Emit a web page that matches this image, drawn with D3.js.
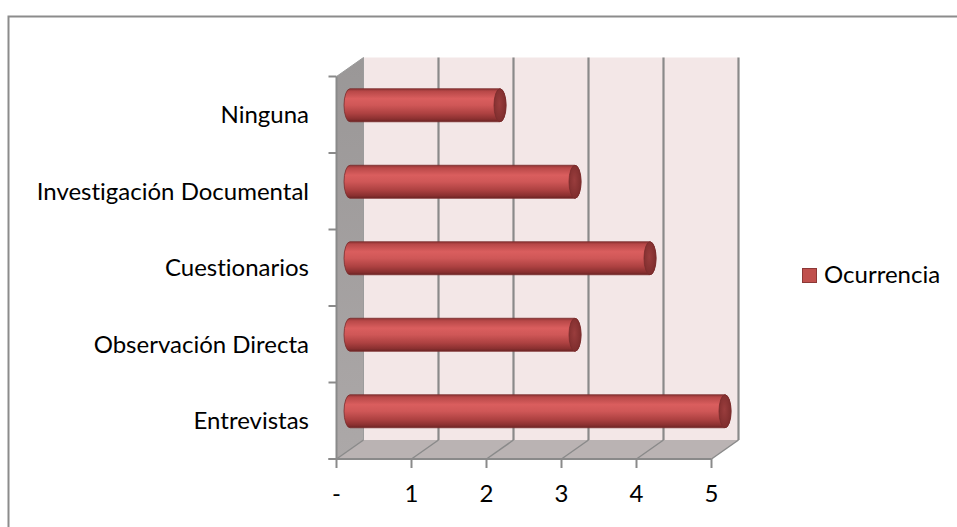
<!DOCTYPE html>
<html>
<head>
<meta charset="utf-8">
<script src="https://cdn.jsdelivr.net/npm/d3@7"></script>
<style>
  html, body { margin: 0; padding: 0; background: #ffffff; }
  svg { display: block; }
  text { font-family: Lato, "Open Sans", sans-serif; fill: #000; font-variant-ligatures: none; }
</style>
</head>
<body>
<svg id="chart" width="957" height="527"></svg>
<script>
// Categories from top to bottom, with their counts
const categories = ["Ninguna", "Investigación Documental", "Cuestionarios", "Observación Directa", "Entrevistas"];
const values = [2, 3, 4, 3, 5];
const tickValues = [0, 1, 2, 3, 4, 5];
const tickLabels = ["-", "1", "2", "3", "4", "5"];
const seriesName = "Ocurrencia";

const svg = d3.select("#chart");
const fontSize = 24;

// Frame around the chart area
svg.append("rect")
  .attr("x", 8.5).attr("y", 16.5)
  .attr("width", 1000).attr("height", 600)
  .attr("fill", "#fff")
  .attr("stroke", "#8c8c8c").attr("stroke-width", 2);

// Front plane scales; the 3D box recedes by (dx, dy)
const x = d3.scaleLinear().domain([0, 5]).range([336.5, 711.5]);
const y = d3.scaleBand().domain(categories).range([76.5, 459]).padding(0);
const dx = 27, dy = -19;
const x0 = x(0), x5 = x(5), yTop = y.range()[0], yBot = y.range()[1];

const defs = svg.append("defs");
const grad = defs.append("linearGradient").attr("id", "cyl")
  .attr("x1", 0).attr("y1", 0).attr("x2", 0).attr("y2", 1);
[[0, "#8e3434"], [0.08, "#b84848"], [0.3, "#da5e5e"], [0.5, "#cf5757"],
 [0.75, "#ad4141"], [0.92, "#8a3030"], [1, "#6a2424"]]
  .forEach(([o, c]) => grad.append("stop").attr("offset", o).attr("stop-color", c));
const capGrad = defs.append("radialGradient").attr("id", "cap")
  .attr("cx", 0.45).attr("cy", 0.45).attr("r", 0.6);
[[0, "#9a3d3d"], [1, "#7c2c2c"]]
  .forEach(([o, c]) => capGrad.append("stop").attr("offset", o).attr("stop-color", c));
const wallGrad = defs.append("linearGradient").attr("id", "wall")
  .attr("x1", 0).attr("y1", 0).attr("x2", 0).attr("y2", 1);
[[0, "#9a9797"], [1, "#aca8a8"]]
  .forEach(([o, c]) => wallGrad.append("stop").attr("offset", o).attr("stop-color", c));

const box = svg.append("g");

// Back wall
box.append("rect")
  .attr("x", x0 + dx).attr("y", yTop + dy)
  .attr("width", x5 - x0).attr("height", yBot - yTop)
  .attr("fill", "#f3e7e7");

// Left side wall
box.append("path")
  .attr("d", `M${x0},${yTop} L${x0 + dx},${yTop + dy} L${x0 + dx},${yBot + dy} L${x0},${yBot} Z`)
  .attr("fill", "url(#wall)");

// Floor
box.append("path")
  .attr("d", `M${x0},${yBot} L${x5},${yBot} L${x5 + dx},${yBot + dy} L${x0 + dx},${yBot + dy} Z`)
  .attr("fill", "#bab3b3");

// Gridlines on back wall and floor
const gridColor = "#8a8a8a";
box.selectAll(".vgrid").data(tickValues.slice(1)).join("line")
  .attr("class", "vgrid")
  .attr("x1", d => x(d) + dx).attr("x2", d => x(d) + dx)
  .attr("y1", yTop + dy).attr("y2", yBot + dy)
  .attr("stroke", gridColor).attr("stroke-width", 2.2);
box.selectAll(".fgrid").data(tickValues).join("line")
  .attr("class", "fgrid")
  .attr("x1", d => x(d)).attr("y1", yBot)
  .attr("x2", d => x(d) + dx).attr("y2", yBot + dy)
  .attr("stroke", gridColor).attr("stroke-width", 1.5);
// Box outlines
box.append("line")
  .attr("x1", x0).attr("y1", yTop).attr("x2", x0).attr("y2", yBot)
  .attr("stroke", "#8a8a8a").attr("stroke-width", 2);
box.append("line")
  .attr("x1", x0).attr("y1", yTop).attr("x2", x0 + dx).attr("y2", yTop + dy)
  .attr("stroke", "#9a9a9a").attr("stroke-width", 1);
box.append("line")
  .attr("x1", x0 - 8).attr("y1", yBot).attr("x2", x5).attr("y2", yBot)
  .attr("stroke", "#8a8a8a").attr("stroke-width", 2);
box.append("line")
  .attr("x1", x0 + dx).attr("y1", yTop + dy).attr("x2", x0 + dx).attr("y2", yBot + dy)
  .attr("stroke", "#9c9c9c").attr("stroke-width", 1);

// Category ticks on the front edge of the side wall
const yTicks = categories.map(c => y(c)).concat([yBot]);
box.selectAll(".ytick").data(yTicks).join("line")
  .attr("x1", x0 - 8).attr("x2", x0).attr("y1", d => d).attr("y2", d => d)
  .attr("stroke", "#8a8a8a").attr("stroke-width", 2);
// Value ticks below the floor
box.selectAll(".xtick").data(tickValues).join("line")
  .attr("x1", d => x(d)).attr("x2", d => x(d)).attr("y1", yBot).attr("y2", yBot + 9)
  .attr("stroke", "#8a8a8a").attr("stroke-width", 2);

// Cylinder bars, centred halfway into the box depth
const r = 16.5, rx = 6;
const bars = svg.append("g").selectAll("g").data(categories).join("g");
bars.each(function (c, i) {
  const g = d3.select(this);
  const cy = y(c) + y.bandwidth() / 2 + dy / 2;
  const cx0 = x(0) + dx / 2;
  const cx1 = x(values[i]) + dx / 2;
  g.append("path")
    .attr("d", `M${cx0},${cy - r} L${cx1},${cy - r} A${rx},${r} 0 0 1 ${cx1},${cy + r} ` +
               `L${cx0},${cy + r} A${rx},${r} 0 0 1 ${cx0},${cy - r} Z`)
    .attr("fill", "url(#cyl)")
    .attr("stroke", "#7a2c2c").attr("stroke-width", 0.8);
  g.append("ellipse")
    .attr("cx", cx1).attr("cy", cy).attr("rx", rx).attr("ry", r)
    .attr("fill", "url(#cap)")
    .attr("stroke", "#7a2c2c").attr("stroke-width", 0.8);
});

// Category labels
svg.append("g").selectAll("text").data(categories).join("text")
  .attr("x", 309)
  .attr("y", c => y(c) + y.bandwidth() / 2)
  .attr("dy", "0.35em")
  .attr("text-anchor", "end")
  .attr("font-size", fontSize)
  .text(c => c);

// Value labels
svg.append("g").selectAll("text").data(tickValues).join("text")
  .attr("x", d => x(d))
  .attr("y", 502)
  .attr("text-anchor", "middle")
  .attr("font-size", fontSize)
  .text((d, i) => tickLabels[i]);

// Legend
const legend = svg.append("g").attr("transform", "translate(802,268)");
legend.append("rect")
  .attr("x", 0.5).attr("y", 0.5).attr("width", 14).attr("height", 14)
  .attr("fill", "#c0504d").attr("stroke", "#8c3836").attr("stroke-width", 1);
legend.append("text")
  .attr("x", 22).attr("y", 15)
  .attr("font-size", fontSize)
  .text(seriesName);
</script>
</body>
</html>
